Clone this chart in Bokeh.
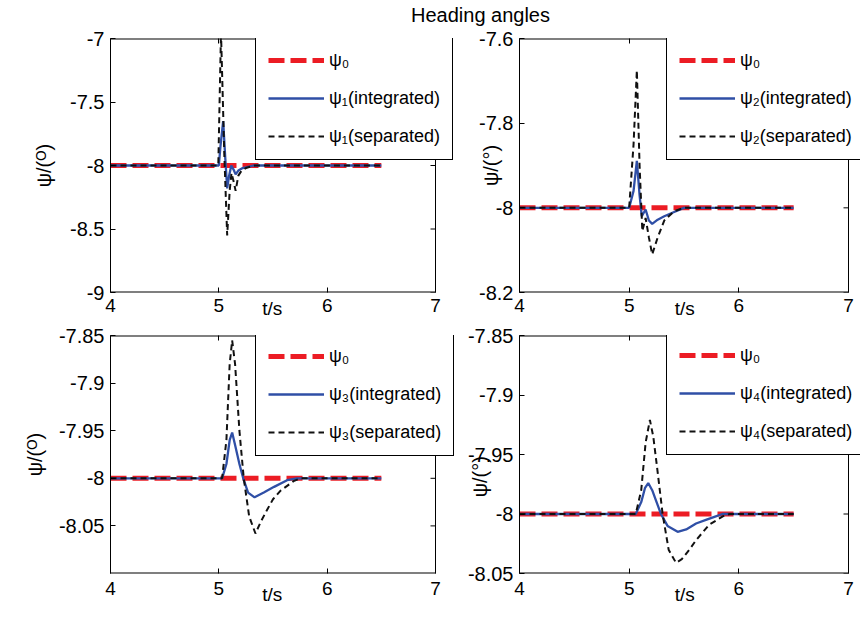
from bokeh.plotting import figure
from bokeh.layouts import column, row
from bokeh.models import Label, LinearAxis, FixedTicker, Range1d
from bokeh.embed import file_html
from bokeh.resources import INLINE

FONT = "Liberation Sans"
RED = "#ec1c24"
BLUE = "#2f4fa6"
BLACK = "#111111"
NB = "\u00a0"

# ---------------- data ----------------
t_ref = [4.0, 6.5]
psi0 = [-8.0, -8.0]

t1_int = [4.0, 5.0, 5.015, 5.04, 5.06, 5.077, 5.095, 5.115, 5.135, 5.155, 5.18, 5.22, 5.32, 6.5]
y1_int = [-8.0, -8.0, -7.85, -7.65, -7.95, -8.18, -8.08, -8.0, -8.03, -8.07, -8.04, -8.02, -8.0, -8.0]
t1_sep = [4.0, 4.995, 5.02, 5.05, 5.077, 5.1, 5.117, 5.135, 5.155, 5.18, 5.21, 5.25, 5.33, 6.5]
y1_sep = [-8.0, -8.0, -6.95, -7.9, -8.55, -8.2, -8.06, -8.12, -8.2, -8.08, -8.04, -8.02, -8.0, -8.0]

t2_int = [4.0, 5.0, 5.04, 5.07, 5.095, 5.115, 5.15, 5.18, 5.21, 5.26, 5.32, 5.41, 5.5, 6.5]
y2_int = [-8.0, -8.0, -7.96, -7.889, -7.97, -8.02, -8.004, -8.03, -8.038, -8.028, -8.02, -8.01, -8.0, -8.0]
t2_sep = [4.0, 5.0, 5.04, 5.07, 5.095, 5.12, 5.15, 5.18, 5.21, 5.26, 5.32, 5.41, 5.5, 6.5]
y2_sep = [-8.0, -8.0, -7.85, -7.675, -7.9, -8.055, -8.024, -8.07, -8.11, -8.07, -8.03, -8.008, -8.0, -8.0]

t3_int = [4.0, 5.03, 5.07, 5.1, 5.123, 5.15, 5.19, 5.225, 5.27, 5.33, 5.415, 5.51, 5.63, 5.72, 6.5]
y3_int = [-8.0, -8.0, -7.985, -7.96, -7.952, -7.965, -7.985, -8.0, -8.015, -8.02, -8.015, -8.009, -8.002, -8.0, -8.0]
t3_sep = [4.0, 5.03, 5.07, 5.1, 5.123, 5.15, 5.19, 5.23, 5.28, 5.338, 5.39, 5.446, 5.5, 5.57, 5.69, 5.75, 6.5]
y3_sep = [-8.0, -8.0, -7.96, -7.88, -7.855, -7.88, -7.95, -8.0, -8.04, -8.058, -8.045, -8.033, -8.022, -8.013, -8.003, -8.0, -8.0]

t4_int = [4.0, 5.06, 5.11, 5.145, 5.174, 5.21, 5.25, 5.29, 5.35, 5.442, 5.52, 5.61, 5.7, 5.79, 5.85, 6.5]
y4_int = [-8.0, -8.0, -7.99, -7.978, -7.974, -7.98, -7.99, -8.0, -8.01, -8.015, -8.013, -8.008, -8.005, -8.002, -8.0, -8.0]
t4_sep = [4.0, 5.06, 5.11, 5.15, 5.189, 5.22, 5.26, 5.305, 5.36, 5.427, 5.48, 5.549, 5.61, 5.73, 5.854, 5.915, 6.5]
y4_sep = [-8.0, -8.0, -7.98, -7.94, -7.921, -7.935, -7.965, -8.0, -8.03, -8.041, -8.038, -8.03, -8.022, -8.009, -8.002, -8.0, -8.0]

x_ticks = [4, 5, 6, 7]
x_tick_labels = ["4", "5", "6", "7"]
y1_ticks = [-9, -8.5, -8, -7.5, -7]
y1_tick_labels = ["-9", "-8.5", "-8", "-7.5", "-7"]
y2_ticks = [-8.2, -8, -7.8, -7.6]
y2_tick_labels = ["-8.2", "-8", "-7.8", "-7.6"]
y3_ticks = [-8.05, -8, -7.95, -7.9, -7.85]
y3_tick_labels = ["-8.05", "-8", "-7.95", "-7.9", "-7.85"]
y4_ticks = [-8.05, -8, -7.95, -7.9, -7.85]
y4_tick_labels = ["-8.05", "-8", "-7.95", "-7.9", "-7.85"]

y1_range = (-9, -7)
y2_range = (-8.2, -7.6)
y3_range = (-8.1, -7.85)
y4_range = (-8.05, -7.85)

title_text = "Heading angles"
x_label = "t/s"
y_label_left = "ψ/(ᴼ)"
y_label_right = "ψ/(°)"
leg_ref = "ψ₀"
leg_int = ["ψ₁(integrated)", "ψ₂(integrated)", "ψ₃(integrated)", "ψ₄(integrated)"]
leg_sep = ["ψ₁(separated)", "ψ₂(separated)", "ψ₃(separated)", "ψ₄(separated)"]


def style_tick_axis(ax, ticks, labels, show_labels=True, size="20px"):
    ax.ticker = FixedTicker(ticks=ticks)
    ax.major_tick_in = 5
    ax.major_tick_out = 0
    ax.minor_tick_in = 0
    ax.minor_tick_out = 0
    ax.major_tick_line_color = "black"
    ax.axis_line_color = "black"
    if show_labels:
        ax.major_label_overrides = {v: s for v, s in zip(ticks, labels)}
        ax.major_label_text_font = FONT
        ax.major_label_text_font_size = size
        ax.major_label_text_color = "black"
    else:
        ax.major_label_text_font_size = "1px"
        ax.major_label_text_color = None
        ax.major_label_standoff = 0
        ax.axis_line_color = None


def panel(t_int, y_int, t_sep, y_sep, yr, yt, ytl, ylab, li, ls,
          width, height, mbl, mbt, mbb, px_per_3, xlab_stand, ylab_standoff, leg_xy):
    # the frame runs to the right canvas edge so that the legend may pass the x=7 border
    x_hi = x_ticks[0] + 3.0 * (width - mbl) / px_per_3
    p = figure(width=width, height=height, x_range=Range1d(x_ticks[0], x_hi), y_range=Range1d(*yr),
               output_backend="svg", toolbar_location=None,
               min_border_left=mbl, min_border_right=0,
               min_border_top=mbt, min_border_bottom=mbb)
    p.grid.visible = False
    p.outline_line_color = None
    p.background_fill_color = "white"
    p.border_fill_color = "white"

    # axes box (x from first to last x tick, y over the y range) and inward right-side ticks
    xb0, xb1 = x_ticks[0], x_ticks[-1]
    ylo, yhi = yr
    p.segment(x0=[xb0, xb0, xb1], y0=[yhi, ylo, ylo], x1=[xb1, xb1, xb1], y1=[yhi, ylo, yhi],
              line_color="black", line_width=[2, 2, 1])
    tl = 5 * 3.0 / px_per_3
    p.segment(x0=[xb1] * len(yt), x1=[xb1 - tl] * len(yt), y0=yt, y1=yt,
              line_color="black", line_width=1)

    p.line(t_ref, psi0, color=RED, line_width=5, line_dash="16 6", legend_label=leg_ref)
    p.line(t_int, y_int, color=BLUE, line_width=2.3, legend_label=li)
    p.line(t_sep, y_sep, color=BLACK, line_width=2, line_dash="6 4", legend_label=ls)

    xa = p.xaxis[0]
    style_tick_axis(xa, x_ticks, x_tick_labels, size="19px")
    xa.axis_line_color = None
    xa.major_label_standoff = xlab_stand[0]
    xa.axis_label = x_label + NB * xlab_stand[2]
    xa.axis_label_text_font = FONT
    xa.axis_label_text_font_size = "19px"
    xa.axis_label_text_font_style = "normal"
    xa.axis_label_text_color = "black"
    xa.axis_label_standoff = xlab_stand[1]

    ya = p.yaxis[0]
    style_tick_axis(ya, yt, ytl)
    ya.major_label_standoff = 6
    ya.axis_label = ylab
    ya.axis_label_text_font = FONT
    ya.axis_label_text_font_size = "20px"
    ya.axis_label_text_font_style = "normal"
    ya.axis_label_text_color = "black"
    ya.axis_label_standoff = ylab_standoff

    ta = LinearAxis()
    style_tick_axis(ta, x_ticks, x_tick_labels, show_labels=False)
    p.add_layout(ta, "above")

    lg = p.legend[0]
    lg.location = leg_xy
    lg.margin = 0
    lg.padding = 12
    lg.spacing = 16
    lg.glyph_width = 56
    lg.glyph_height = 22
    lg.label_height = 22
    lg.label_standoff = 5
    lg.label_text_font = FONT
    lg.label_text_font_size = "18px"
    lg.label_text_color = "black"
    lg.border_line_color = "black"
    lg.border_line_width = 1
    lg.border_line_alpha = 1.0
    lg.background_fill_color = "white"
    lg.background_fill_alpha = 1.0
    return p


# layout: title strip 28px; top row 296px (frame 38..292); bottom row 295px (frame 335..573)
# left column 465px wide (x=4 at 110, x=7 at 435); right column 395px (x=4 at 519, x=7 at 848)
p1 = panel(t1_int, y1_int, t1_sep, y1_sep, y1_range, y1_ticks, y1_tick_labels, y_label_left,
           leg_int[0], leg_sep[0], 465, 296, 110, 10, 32, 325, (6, -17, 6), 12, (145, 254 - 122))
p2 = panel(t2_int, y2_int, t2_sep, y2_sep, y2_range, y2_ticks, y2_tick_labels, y_label_right,
           leg_int[1], leg_sep[1], 395, 296, 54, 10, 32, 329, (6, -17, 2), -26, (147, 254 - 122))
p3 = panel(t3_int, y3_int, t3_sep, y3_sep, y3_range, y3_ticks, y3_tick_labels, y_label_left,
           leg_int[2], leg_sep[2], 465, 295, 110, 11, 46, 325, (8, -14, 6), 10, (145, 238 - 121))
p4 = panel(t4_int, y4_int, t4_sep, y4_sep, y4_range, y4_ticks, y4_tick_labels, y_label_right + NB * 8,
           leg_int[3], leg_sep[3], 395, 295, 54, 11, 46, 329, (8, -14, 2), -26, (147, 238 - 120))

tf = figure(width=860, height=28, x_range=Range1d(0, 860), y_range=Range1d(0, 28),
            output_backend="svg", toolbar_location=None, x_axis_type=None, y_axis_type=None,
            min_border=0)
tf.outline_line_color = None
tf.grid.visible = False
tf.background_fill_color = "white"
tf.border_fill_color = "white"
tf.add_layout(Label(x=480, y=14, text=title_text, text_align="center", text_baseline="middle",
                    text_font=FONT, text_font_size="20px", text_color="black"))

layout = column(tf, row(p1, p2), row(p3, p4))

with open("out.html", "w") as f:
    f.write(file_html(layout, INLINE))
